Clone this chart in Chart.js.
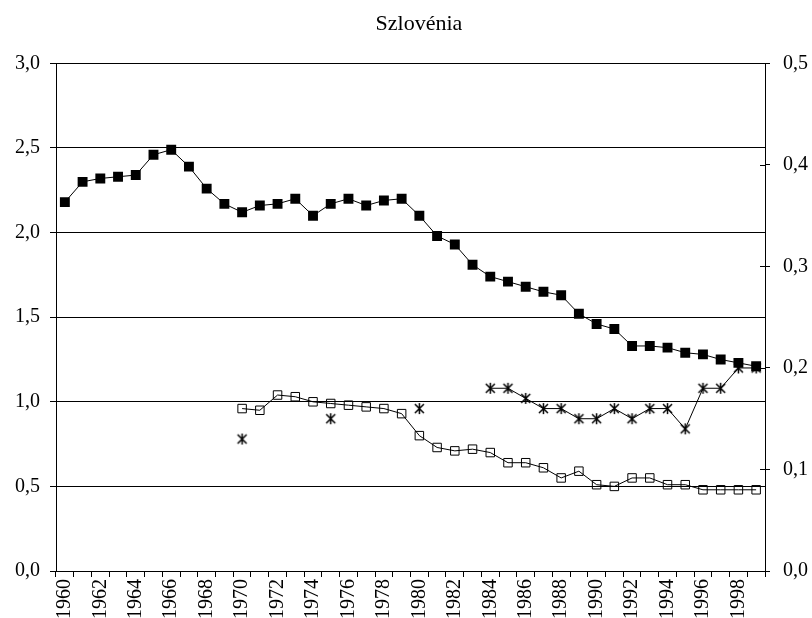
<!DOCTYPE html>
<html>
<head>
<meta charset="utf-8">
<script src="https://cdn.jsdelivr.net/npm/chart.js@4"></script>
<style>
  body { margin: 0; overflow: hidden; background: #fff; }
</style>
</head>
<body>
<canvas id="szloChart" width="812" height="618"></canvas>
<script>
// --- DATA ---
const years = [];
for (let y = 1960; y <= 1999; y++) years.push(String(y));

// left axis, filled squares
const filledSeries = [
    2.18, 2.30, 2.32, 2.33, 2.34, 2.46, 2.49, 2.39, 2.26, 2.17,
    2.12, 2.16, 2.17, 2.20, 2.10, 2.17, 2.20, 2.16, 2.19, 2.20,
    2.10, 1.98, 1.93, 1.81, 1.74, 1.71, 1.68, 1.65, 1.63, 1.52,
    1.46, 1.43, 1.33, 1.33, 1.32, 1.29, 1.28, 1.25, 1.23, 1.21
];

// left axis, open squares
const openSeries = [
    null, null, null, null, null, null, null, null, null, null,
    0.96, 0.95, 1.04, 1.03, 1.00, 0.99, 0.98, 0.97, 0.96, 0.93,
    0.80, 0.73, 0.71, 0.72, 0.70, 0.64, 0.64, 0.61, 0.55, 0.59,
    0.51, 0.50, 0.55, 0.55, 0.51, 0.51, 0.48, 0.48, 0.48, 0.48
];

// right axis, asterisks
const starSeries = [
    null, null, null, null, null, null, null, null, null, null,
    0.13, null, null, null, null, 0.15, null, null, null, null,
    0.16, null, null, null, 0.18, 0.18, 0.17, 0.16, 0.16, 0.15,
    0.15, 0.16, 0.15, 0.16, 0.16, 0.14, 0.18, 0.18, 0.20, 0.20
];

const leftTicks = [0, 0.5, 1, 1.5, 2, 2.5, 3];
const rightTicks = [0, 0.1, 0.2, 0.3, 0.4, 0.5];

const FONT = "'Liberation Serif', 'Times New Roman', serif";
const fmt = v => v.toFixed(1).replace('.', ',');

// asterisk marker: X plus a vertical bar
function makeStar() {
    const c = document.createElement('canvas');
    c.width = 13; c.height = 13;
    const g = c.getContext('2d');
    g.strokeStyle = '#000';
    g.lineWidth = 1.5;
    g.beginPath();
    g.moveTo(2, 2); g.lineTo(11, 11);
    g.moveTo(11, 2); g.lineTo(2, 11);
    g.moveTo(6.5, 1); g.lineTo(6.5, 12);
    g.stroke();
    return c;
}

// right axis ticks also cross into the plot
const innerTicks = {
    id: 'innerTicks',
    afterDraw(chart) {
        const s = chart.scales.y2;
        const ctx = chart.ctx;
        ctx.save();
        ctx.strokeStyle = '#000';
        ctx.lineWidth = 1;
        ctx.beginPath();
        rightTicks.forEach(v => {
            const y = Math.round(s.getPixelForValue(v)) + 0.5;
            ctx.moveTo(s.left - 5, y);
            ctx.lineTo(s.left, y);
        });
        ctx.stroke();
        ctx.restore();
    }
};

const ctx = document.getElementById('szloChart').getContext('2d');
new Chart(ctx, {
    type: 'line',
    data: {
        labels: years,
        datasets: [
            {
                data: filledSeries,
                yAxisID: 'y',
                borderColor: '#000',
                borderWidth: 1,
                pointStyle: 'rect',
                pointRadius: 7,
                pointBackgroundColor: '#000',
                pointBorderColor: '#000',
                pointBorderWidth: 0
            },
            {
                data: openSeries,
                yAxisID: 'y',
                borderColor: '#000',
                borderWidth: 1,
                pointStyle: 'rect',
                pointRadius: 6,
                pointBackgroundColor: 'rgba(0,0,0,0)',
                pointBorderColor: '#000',
                pointBorderWidth: 1
            },
            {
                data: starSeries,
                yAxisID: 'y2',
                borderColor: '#000',
                borderWidth: 1,
                spanGaps: false,
                pointStyle: makeStar(),
                pointRadius: 6
            }
        ]
    },
    options: {
        responsive: false,
        animation: false,
        // title in the reference sits a little right of centre
        layout: { padding: { left: 0, right: -26, top: 0, bottom: 0 } },
        plugins: {
            legend: { display: false },
            tooltip: { enabled: false },
            title: {
                display: true,
                text: 'Szlovénia',
                color: '#000',
                font: { family: FONT, size: 22, weight: 'normal' },
                padding: { top: 11, bottom: 26 }
            }
        },
        scales: {
            x: {
                type: 'category',
                offset: true,
                afterFit: s => { s.height = 47; },
                grid: { offset: true, drawOnChartArea: false, tickLength: 6, color: '#000' },
                border: { color: '#000', width: 1 },
                ticks: {
                    autoSkip: false,
                    minRotation: 90,
                    maxRotation: 90,
                    padding: 2,
                    color: '#000',
                    font: { family: FONT, size: 20 },
                    callback: (v, i) => (i % 2 === 0 ? years[i] : '')
                }
            },
            y: {
                position: 'left',
                min: 0,
                max: 3,
                afterFit: s => { s.width = 56; },
                afterBuildTicks: s => { s.ticks = leftTicks.map(v => ({ value: v })); },
                grid: { color: '#000', lineWidth: 1, tickLength: 6 },
                border: { color: '#000', width: 1 },
                ticks: {
                    padding: 10,
                    color: '#000',
                    font: { family: FONT, size: 20 },
                    callback: v => fmt(v)
                }
            },
            y2: {
                position: 'right',
                min: 0,
                max: 0.5,
                afterFit: s => { s.width = 73; },
                afterBuildTicks: s => { s.ticks = rightTicks.map(v => ({ value: v })); },
                grid: { drawOnChartArea: false, color: '#000', tickLength: 5 },
                border: { color: '#000', width: 1 },
                ticks: {
                    padding: 13,
                    color: '#000',
                    font: { family: FONT, size: 20 },
                    callback: v => fmt(v)
                }
            }
        }
    },
    plugins: [innerTicks]
});
</script>
</body>
</html>
